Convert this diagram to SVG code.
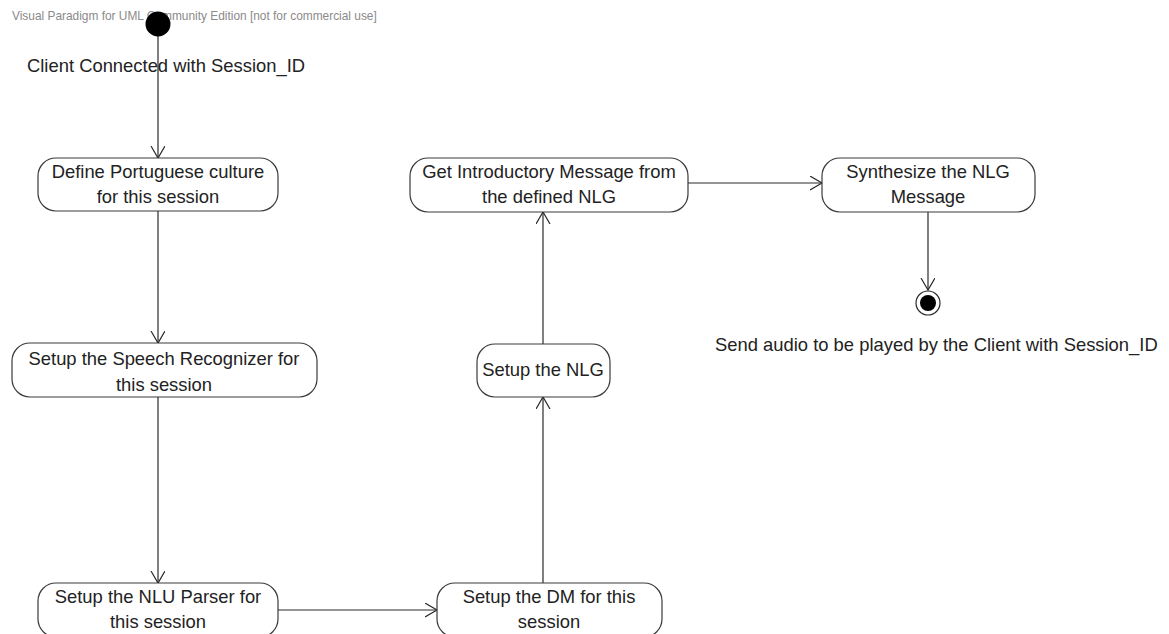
<svg xmlns="http://www.w3.org/2000/svg" width="1169" height="634" viewBox="0 0 1169 634">
<style>
.node rect{fill:#fff;stroke:#3a3a3a;stroke-width:1.2}
.lbl{font-family:"Liberation Sans",Arial,sans-serif;font-size:18.4px;fill:#222;text-anchor:middle}
.free{font-family:"Liberation Sans",Arial,sans-serif;font-size:18.4px;fill:#222}
.wm{font-family:"Liberation Sans",Arial,sans-serif;font-size:11.9px;fill:#8a8a8a}
.edge{stroke:#2a2a2a;stroke-width:1.2;fill:none;marker-end:url(#arr)}
</style>
<defs>
<marker id="arr" markerUnits="userSpaceOnUse" markerWidth="14" markerHeight="16" refX="12" refY="7" orient="auto" viewBox="0 0 14 16">
<path d="M0,0 L12,7 L0,14" fill="none" stroke="#2a2a2a" stroke-width="1.2"/>
</marker>
</defs>
<rect width="1169" height="634" fill="#fff"/>
<text class="wm" x="12" y="20">Visual Paradigm for UML Community Edition [not for commercial use]</text>
<g id="connectors">
<line class="edge" x1="158" y1="36" x2="158" y2="158"/>
<line class="edge" x1="158" y1="211" x2="158" y2="343"/>
<line class="edge" x1="158" y1="397" x2="158" y2="583"/>
<line class="edge" x1="278" y1="610" x2="437" y2="610"/>
<line class="edge" x1="543" y1="583" x2="543" y2="397"/>
<line class="edge" x1="543" y1="344" x2="543" y2="212"/>
<line class="edge" x1="688" y1="183" x2="822" y2="183"/>
<line class="edge" x1="928" y1="212" x2="928" y2="290"/>
</g>
<g id="initial">
<circle cx="158" cy="24" r="12.5" fill="#000"/>
<text class="free" x="27" y="72">Client Connected with Session_ID</text>
</g>
<g id="n1" class="node">
<rect x="38" y="158" width="240" height="53" rx="18"/>
<text class="lbl" x="158" y="178">Define Portuguese culture</text>
<text class="lbl" x="158" y="203">for this session</text>
</g>
<g id="n2" class="node">
<rect x="12" y="343" width="305" height="54" rx="18"/>
<text class="lbl" x="164" y="365">Setup the Speech Recognizer for</text>
<text class="lbl" x="164" y="391">this session</text>
</g>
<g id="n3" class="node">
<rect x="38" y="583" width="240" height="54" rx="18"/>
<text class="lbl" x="158" y="603">Setup the NLU Parser for</text>
<text class="lbl" x="158" y="628">this session</text>
</g>
<g id="n4" class="node">
<rect x="437" y="583" width="225" height="54" rx="18"/>
<text class="lbl" x="549" y="603">Setup the DM for this</text>
<text class="lbl" x="549" y="628">session</text>
</g>
<g id="n5" class="node">
<rect x="477" y="344" width="133" height="53" rx="18"/>
<text class="lbl" x="543" y="376">Setup the NLG</text>
</g>
<g id="n6" class="node">
<rect x="410" y="158" width="278" height="54" rx="18"/>
<text class="lbl" x="549" y="178">Get Introductory Message from</text>
<text class="lbl" x="549" y="203">the defined NLG</text>
</g>
<g id="n7" class="node">
<rect x="822" y="158" width="213" height="54" rx="18"/>
<text class="lbl" x="928" y="178">Synthesize the NLG</text>
<text class="lbl" x="928" y="203">Message</text>
</g>
<g id="final">
<circle cx="928" cy="303" r="12" fill="#fff" stroke="#2a2a2a" stroke-width="1.2"/>
<circle cx="928" cy="303" r="8" fill="#000"/>
<text class="free" x="715" y="351">Send audio to be played by the Client with Session_ID</text>
</g>
</svg>
